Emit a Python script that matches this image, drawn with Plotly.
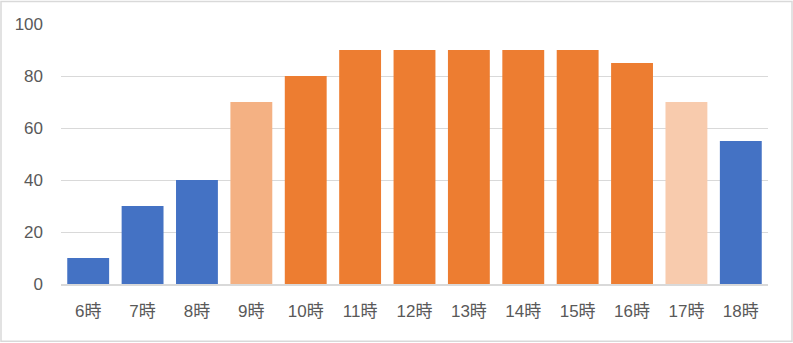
import plotly.graph_objects as go

categories = ["6時", "7時", "8時", "9時", "10時", "11時", "12時", "13時", "14時", "15時", "16時", "17時", "18時"]
values = [10, 30, 40, 70, 80, 90, 90, 90, 90, 90, 85, 70, 55]
bar_colors = ["#4472C4", "#4472C4", "#4472C4", "#F4B183", "#ED7D31", "#ED7D31", "#ED7D31",
              "#ED7D31", "#ED7D31", "#ED7D31", "#ED7D31", "#F8CBAD", "#4472C4"]
y_ticks = [0, 20, 40, 60, 80, 100]

W, H = 793, 343
ml, mr, mt, mb = 61, 25, 23.5, 58.5

fig = go.Figure(go.Bar(x=categories, y=values, marker=dict(color=bar_colors, line=dict(width=0))))

font = dict(family="Liberation Sans, Noto Sans CJK JP, sans-serif", size=17, color="#595959")
fig.update_layout(
    width=W, height=H, autosize=False,
    margin=dict(l=ml, r=mr, t=mt, b=mb, pad=0),
    paper_bgcolor="white", plot_bgcolor="white",
    bargap=0.23, showlegend=False, font=font,
    xaxis=dict(showgrid=False, showline=True, linecolor="#D9D9D9", linewidth=1.5,
               ticks="", tickfont=font, ticklabelstandoff=11, fixedrange=True),
    yaxis=dict(range=[0, 100], tickvals=y_ticks, showgrid=True, gridcolor="#D9D9D9", gridwidth=1,
               zeroline=False, showline=False, ticks="", tickfont=font, ticklabelstandoff=17,
               fixedrange=True),
)
pw, ph = W - ml - mr, H - mt - mb
fig.add_shape(type="rect", xref="paper", yref="paper",
              x0=(1 - ml) / pw, x1=(W - 1 - ml) / pw,
              y0=-(mb - 1) / ph, y1=1 + (mt - 1) / ph,
              line=dict(color="#D9D9D9", width=1.5), fillcolor="rgba(0,0,0,0)", layer="above")
fig.write_html("out.html", config={"displayModeBar": False})
